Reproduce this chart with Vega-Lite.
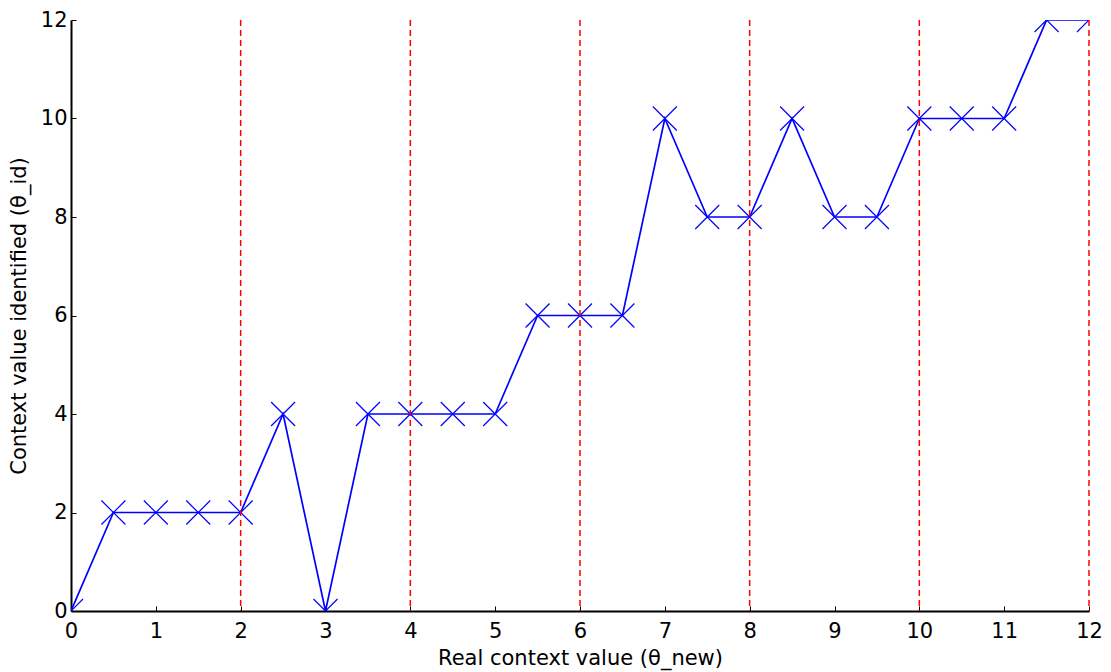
{
  "$schema": "https://vega.github.io/schema/vega-lite/v6.json",
  "width": 1018,
  "height": 591,
  "autosize": {"type": "none"},
  "padding": {"left": 71, "top": 20, "right": 22, "bottom": 61},
  "background": "white",
  "config": {
    "view": {"stroke": null},
    "font": "DejaVu Sans",
    "axis": {
      "grid": false,
      "domainColor": "black",
      "domainWidth": 2,
      "tickColor": "black",
      "tickWidth": 1,
      "tickSize": -5,
      "labelFont": "DejaVu Sans",
      "labelFontSize": 21,
      "labelColor": "black",
      "titleFont": "DejaVu Sans",
      "titleFontSize": 21,
      "titleFontWeight": "normal",
      "titleColor": "black"
    }
  },
  "datasets": {
    "pts": [
      {"x": 0, "y": 0}, {"x": 0.5, "y": 2}, {"x": 1, "y": 2}, {"x": 1.5, "y": 2},
      {"x": 2, "y": 2}, {"x": 2.5, "y": 4}, {"x": 3, "y": 0}, {"x": 3.5, "y": 4},
      {"x": 4, "y": 4}, {"x": 4.5, "y": 4}, {"x": 5, "y": 4}, {"x": 5.5, "y": 6},
      {"x": 6, "y": 6}, {"x": 6.5, "y": 6}, {"x": 7, "y": 10}, {"x": 7.5, "y": 8},
      {"x": 8, "y": 8}, {"x": 8.5, "y": 10}, {"x": 9, "y": 8}, {"x": 9.5, "y": 8},
      {"x": 10, "y": 10}, {"x": 10.5, "y": 10}, {"x": 11, "y": 10}, {"x": 11.5, "y": 12},
      {"x": 12, "y": 12}
    ],
    "vlines": [{"x": 2}, {"x": 4}, {"x": 6}, {"x": 8}, {"x": 10}, {"x": 12}]
  },
  "layer": [
    {
      "data": {"name": "pts"},
      "mark": {"type": "line", "color": "#0000ff", "strokeWidth": 1.7, "clip": true},
      "encoding": {
        "x": {"field": "x", "type": "quantitative",
              "scale": {"domain": [0, 12], "nice": false, "zero": false},
              "axis": {"values": [0,1,2,3,4,5,6,7,8,9,10,11,12], "format": "d", "title": "Real context value (θ_new)", "labelPadding": 14, "titlePadding": 6, "labelFlush": false}},
        "y": {"field": "y", "type": "quantitative",
              "scale": {"domain": [0, 12], "nice": false, "zero": false},
              "axis": {"values": [0,2,4,6,8,10,12], "format": "d", "title": "Context value identified (θ_id)", "labelPadding": 9, "titlePadding": 11, "labelFlush": false}}
      }
    },
    {
      "data": {"name": "pts"},
      "mark": {"type": "point", "shape": "M-1,-1L1,1M-1,1L1,-1", "size": 576, "filled": false, "color": "#0000ff", "stroke": "#0000ff", "strokeWidth": 1.2, "opacity": 1, "clip": true},
      "encoding": {
        "x": {"field": "x", "type": "quantitative"},
        "y": {"field": "y", "type": "quantitative"}
      }
    },
    {
      "data": {"name": "vlines"},
      "mark": {"type": "rule", "color": "#ff0000", "strokeWidth": 1.5, "strokeDash": [6, 4]},
      "encoding": {
        "x": {"field": "x", "type": "quantitative"}
      }
    }
  ]
}
